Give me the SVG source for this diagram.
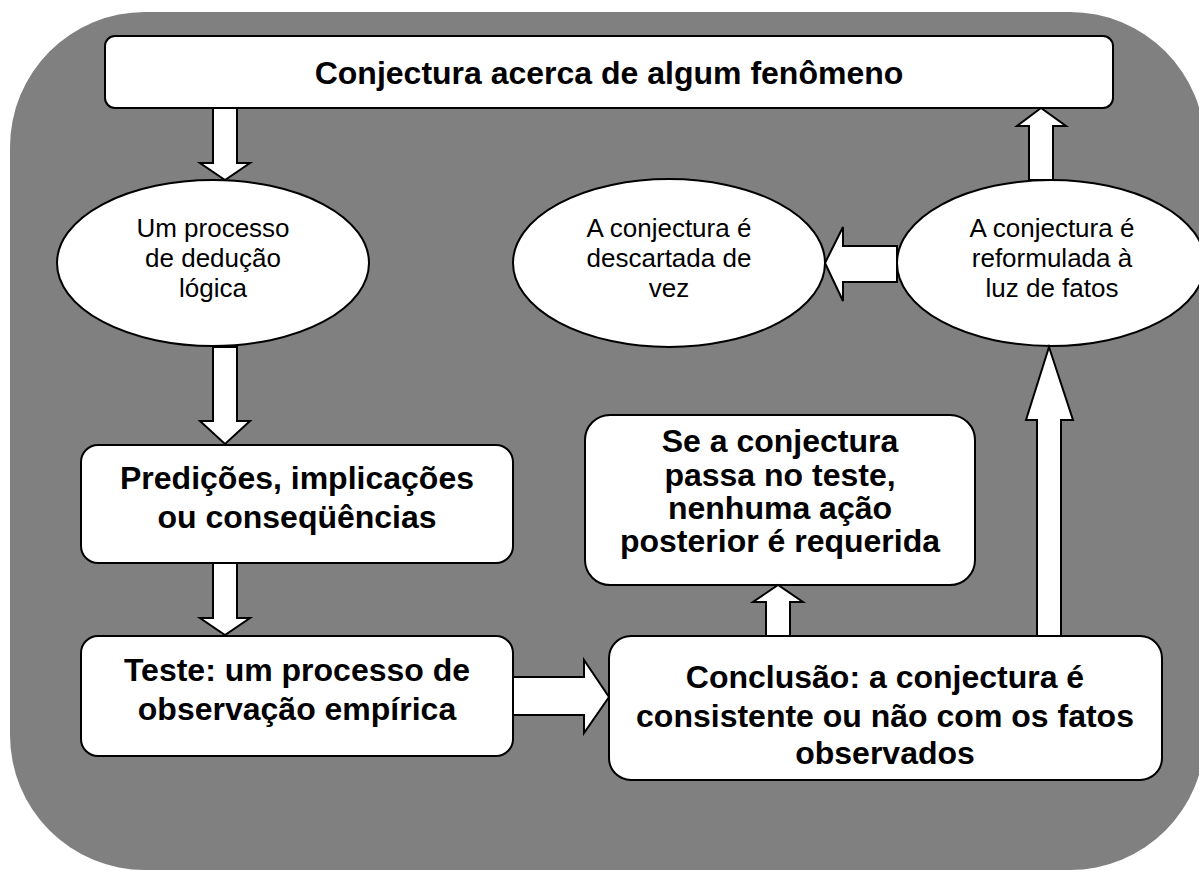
<svg xmlns="http://www.w3.org/2000/svg" width="1199" height="871" viewBox="0 0 1199 871">
<style>
.node{fill:#fff;stroke:#000;stroke-width:2}
.arrow{fill:#fff;stroke:#000;stroke-width:2;stroke-linejoin:miter}
.b{font-family:"Liberation Sans",Arial,sans-serif;font-weight:bold;font-size:32px;text-anchor:middle;fill:#000}
.r{font-family:"Liberation Sans",Arial,sans-serif;font-size:26px;text-anchor:middle;fill:#000}
</style>
<rect x="10" y="12" width="1195" height="858" rx="135" ry="135" fill="#808080"/>
<g id="n-top">
<rect class="node" x="105" y="36" width="1008" height="72" rx="10"/>
<text class="b" x="609" y="84">Conjectura acerca de algum fenômeno</text>
</g>
<g id="n-deducao">
<ellipse class="node" cx="213" cy="263" rx="156" ry="83"/>
<text class="r" x="213" y="237">Um processo</text>
<text class="r" x="213" y="267">de dedução</text>
<text class="r" x="213" y="297">lógica</text>
</g>
<g id="n-descartada">
<ellipse class="node" cx="669" cy="263" rx="156" ry="84"/>
<text class="r" x="669" y="237">A conjectura é</text>
<text class="r" x="669" y="267">descartada de</text>
<text class="r" x="669" y="297">vez</text>
</g>
<g id="n-reformulada">
<ellipse class="node" cx="1051" cy="263" rx="154" ry="83"/>
<text class="r" x="1052" y="237">A conjectura é</text>
<text class="r" x="1052" y="267">reformulada à</text>
<text class="r" x="1052" y="297">luz de fatos</text>
</g>
<g id="n-predicoes">
<rect class="node" x="81" y="445" width="432" height="118" rx="17"/>
<text class="b" x="297" y="489">Predições, implicações</text>
<text class="b" x="297" y="528">ou conseqüências</text>
</g>
<g id="n-teste">
<rect class="node" x="81" y="636" width="432" height="120" rx="17"/>
<text class="b" x="297" y="681">Teste: um processo de</text>
<text class="b" x="297" y="720">observação empírica</text>
</g>
<g id="n-passa">
<rect class="node" x="585" y="415" width="390" height="170" rx="25"/>
<text class="b" x="780" y="452">Se a conjectura</text>
<text class="b" x="780" y="486">passa no teste,</text>
<text class="b" x="780" y="519">nenhuma ação</text>
<text class="b" x="780" y="552">posterior é requerida</text>
</g>
<g id="n-conclusao">
<rect class="node" x="609" y="636" width="553" height="144" rx="22"/>
<text class="b" x="885" y="688">Conclusão: a conjectura é</text>
<text class="b" x="885" y="727">consistente ou não com os fatos</text>
<text class="b" x="885" y="764">observados</text>
</g>
<g id="connectors">
<polygon class="arrow" points="213,108 237,108 237,163 250,163 225,180 200,163 213,163"/>
<polygon class="arrow" points="213,347 237,347 237,421 250,421 225,444 200,421 213,421"/>
<polygon class="arrow" points="213,563 237,563 237,618 250,618 225,635 200,618 213,618"/>
<polygon class="arrow" points="513,677 584,677 584,660 609,697 584,733 584,715 513,715"/>
<polygon class="arrow" points="766,636 766,602 753,602 778,585 803,602 790,602 790,636"/>
<polygon class="arrow" points="1037,636 1037,420 1026,420 1049,347 1073,420 1061,420 1061,636"/>
<polygon class="arrow" points="1029,180 1029,126 1017,126 1041,108 1066,126 1053,126 1053,180"/>
<polygon class="arrow" points="897,246 843,246 843,227 825,263 843,301 843,282 897,282"/>
</g>
</svg>
